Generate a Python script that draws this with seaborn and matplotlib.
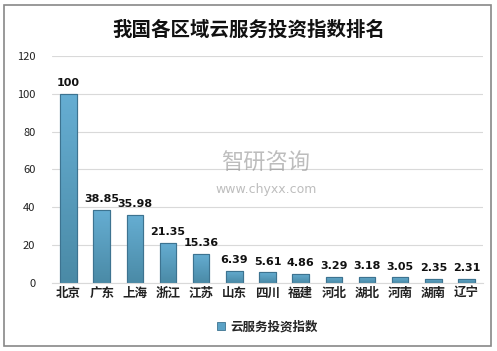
import matplotlib
matplotlib.use("Agg")
import matplotlib.pyplot as plt
import seaborn as sns
import pandas as pd
import numpy as np
from matplotlib.patches import Rectangle
from matplotlib.colors import LinearSegmentedColormap

regions = ["北京", "广东", "上海", "浙江", "江苏", "山东", "四川", "福建", "河北", "湖北", "河南", "湖南", "辽宁"]
values = [100, 38.85, 35.98, 21.35, 15.36, 6.39, 5.61, 4.86, 3.29, 3.18, 3.05, 2.35, 2.31]
value_labels = ["100", "38.85", "35.98", "21.35", "15.36", "6.39", "5.61", "4.86", "3.29", "3.18", "3.05", "2.35", "2.31"]
series_name = "云服务投资指数"
title = "我国各区域云服务投资指数排名"
yticks = [0, 20, 40, 60, 80, 100, 120]

sns.set_theme(style="white")
plt.rcParams['font.family'] = ['Noto Sans CJK SC', 'DejaVu Sans']

df = pd.DataFrame({"region": regions, "value": values})

fig = plt.figure(figsize=(4.97, 3.51), dpi=100)
ax = fig.add_axes([0.1046, 0.1937, 0.8672, 0.6468])

sns.barplot(data=df, x="region", y="value", color="#5BA2C6", width=0.5, saturation=1,
            edgecolor="#3D7390", linewidth=0.8, ax=ax, label=series_name)

# vertical gradient fill clipped to each bar
cmap = LinearSegmentedColormap.from_list("g", ["#4A8AA6", "#66AED3"])
grad = np.linspace(0, 1, 256).reshape(-1, 1)
for p in ax.patches:
    x0, y0 = p.get_x(), p.get_y()
    w, h = p.get_width(), p.get_height()
    im = ax.imshow(grad, cmap=cmap, origin="lower", aspect="auto",
                   extent=[x0, x0 + w, y0, y0 + h], zorder=p.get_zorder() + 0.1)
    im.set_clip_path(p)
    p.set_zorder(p.get_zorder())
    # redraw the edge on top
    edge = Rectangle((x0, y0), w, h, fill=False, edgecolor="#3D7390", linewidth=0.8,
                     zorder=p.get_zorder() + 0.2)
    ax.add_artist(edge)

ax.set_ylim(0, 120)
ax.set_yticks(yticks)
ax.set_yticklabels([str(t) for t in yticks], fontsize=8, color="#222222")
ax.set_xlim(-0.5, len(regions) - 0.5)
ax.tick_params(axis="x", labelsize=9, colors="#222222", pad=3, length=0)
ax.tick_params(axis="y", pad=12, length=0)
for lab in ax.get_xticklabels():
    lab.set_fontweight("bold")
ax.set_xlabel("")
ax.set_ylabel("")
ax.yaxis.grid(True, color="#D9D9D9", linewidth=0.8)
ax.set_axisbelow(True)
for s in ["top", "right", "left"]:
    ax.spines[s].set_visible(False)
ax.spines["bottom"].set_color("#D9D9D9")
ax.spines["bottom"].set_linewidth(0.8)

for i, (v, t) in enumerate(zip(values, value_labels)):
    ax.annotate(t, (i, v), xytext=(0, 4), textcoords="offset points",
                ha="center", va="bottom", fontsize=8, fontweight="bold",
                family=["DejaVu Sans"], color="#111111")

fig.text(0.5, 0.915, title, ha="center", va="center", fontsize=14, fontweight="bold", color="#111111")

# watermark
fig.text(0.535, 0.535, "智研咨询", ha="center", va="center", fontsize=16, color="#888888", alpha=0.55)
fig.text(0.535, 0.46, "www.chyxx.com", ha="center", va="center", fontsize=9, color="#888888", alpha=0.55,
         family=["DejaVu Sans"])

leg = ax.legend(handles=[Rectangle((0, 0), 1, 1, facecolor="#5BA2C6", edgecolor="#3D7390", linewidth=0.6)],
                labels=[series_name],
                loc="upper center", bbox_to_anchor=(0.5, -0.115), frameon=False,
                fontsize=9, handlelength=0.6, handleheight=0.6, handletextpad=0.4)
for t in leg.get_texts():
    t.set_fontweight("bold")

fig.patches.append(Rectangle((0.008, 0.014), 0.98, 0.972, transform=fig.transFigure,
                             fill=False, edgecolor="#888888", linewidth=1.2))

fig.savefig("out.png", dpi=100)
